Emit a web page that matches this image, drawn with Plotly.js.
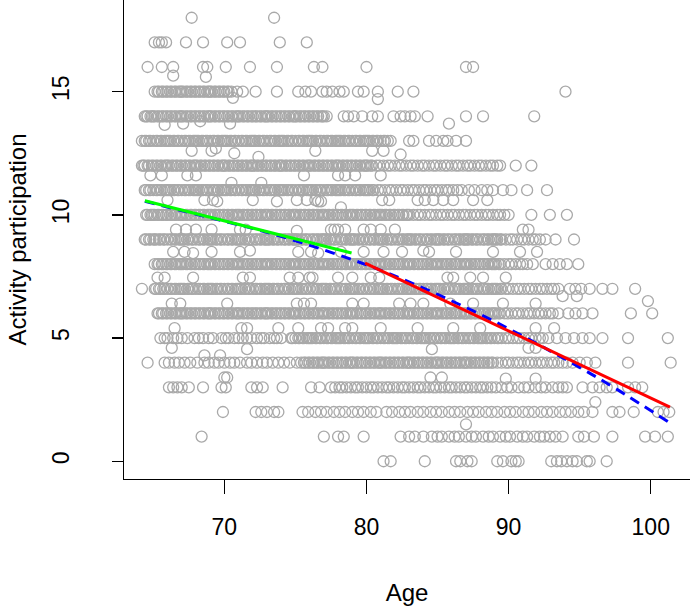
<!DOCTYPE html>
<html><head><meta charset="utf-8">
<script src="https://cdn.plot.ly/plotly-3.0.1.min.js"></script>
<style>html,body{margin:0;padding:0;background:#fff}#chart{width:698px;height:607px}</style>
</head><body><div id="chart"></div>
<script>
// Observed ages at each integer activity-participation score (dense runs = heavy overplotting)
const age18 = [67.7, 73.5];
const age17 = [65.1, 65.4, 65.6, 65.9, 67.3, 68.5, 70.2, 71.1, 73.9, 75.8];
const age16 = [64.6, 65.6, 66.4, 68.5, 68.8, 70.1, 71.8, 73.7, 76.3, 76.9, 80.0, 87.0, 87.5];
const age15 = [65.1, 65.3, 65.4, 65.6, 65.7, 65.9, 66.0, 66.2, 66.3, 66.5, 66.6, 66.8, 66.9,
  67.0, 67.1, 67.3, 67.4, 67.6, 67.7, 67.9, 68.0, 68.2, 68.3, 68.5, 68.6, 68.8, 68.9,
  69.0, 69.1, 69.3, 69.4, 69.6, 69.7, 69.9, 70.0, 70.2, 70.3, 70.5,
  70.9, 71.3, 72.2, 73.7, 75.2, 75.7, 76.1, 76.9, 77.2, 77.6, 78.1, 78.4, 79.4, 79.8, 80.8, 82.2, 83.3, 94.0];
const age14 = [64.4, 64.5, 64.6, 64.8, 64.9, 65.0, 65.1, 65.3, 65.4, 65.6, 65.7, 65.9,
  66.0, 66.2, 66.3, 66.5, 66.6, 66.8, 66.9, 67.0, 67.1, 67.3, 67.4, 67.6, 67.7, 67.9,
  68.0, 68.2, 68.3, 68.5, 68.6, 68.8, 68.9, 69.0, 69.1, 69.3, 69.4, 69.6, 69.7, 69.9,
  70.0, 70.2, 70.3, 70.5, 70.6, 70.8, 70.9, 71.0, 71.1, 71.3, 71.4, 71.6, 71.7, 71.9,
  72.0, 72.2, 72.3, 72.5, 72.6, 72.8, 72.9, 73.0, 73.1, 73.3, 73.4, 73.6, 73.7, 73.9,
  74.0, 74.2, 74.3, 74.5, 74.6, 74.8, 74.9, 75.0, 75.1, 75.3, 75.4, 75.6, 75.7, 75.9,
  76.0, 76.2, 76.3, 76.5, 76.6, 76.8, 76.9, 77.0, 77.2,
  78.4, 78.7, 79.1, 79.7, 80.4, 80.8, 81.9, 82.4, 82.7, 83.1, 83.4, 84.3, 87.0, 88.2, 91.8];
const age13 = [64.2, 64.4, 64.5, 64.7, 64.8, 65.0, 65.2, 65.3, 65.5, 65.6, 65.8, 65.9,
  66.0, 66.1, 66.2, 66.4, 66.5, 66.7, 66.8, 67.0, 67.2, 67.3, 67.5, 67.6, 67.8, 67.9,
  68.0, 68.1, 68.2, 68.4, 68.5, 68.7, 68.8, 69.0, 69.2, 69.3, 69.5, 69.6, 69.8, 69.9,
  70.0, 70.1, 70.2, 70.4, 70.5, 70.7, 70.8, 71.0, 71.2, 71.3, 71.5, 71.6, 71.8, 71.9,
  72.0, 72.1, 72.2, 72.4, 72.5, 72.7, 72.8, 73.0, 73.2, 73.3, 73.5, 73.6, 73.8, 73.9,
  74.0, 74.1, 74.2, 74.4, 74.5, 74.7, 74.8, 75.0, 75.2, 75.3, 75.5, 75.6, 75.8, 75.9,
  76.0, 76.1, 76.2, 76.4, 76.5, 76.7, 76.8, 77.0, 77.2, 77.3, 77.5, 77.6, 77.8, 77.9,
  78.0, 78.1, 78.2, 78.4, 78.5, 78.7, 78.8, 79.0, 79.2, 79.3, 79.5, 79.6, 79.8, 79.9,
  80.0, 80.1, 80.2, 80.4, 80.5, 80.7, 80.8, 81.0, 81.2, 81.3, 81.5, 81.7,
  83.0, 83.3, 84.4, 84.9, 85.4, 85.7, 86.3, 87.0];
const age12 = [64.2, 64.3, 64.4, 64.6, 64.7, 64.9, 65.0, 65.2, 65.3, 65.5, 65.6, 65.8, 65.9,
  66.0, 66.1, 66.3, 66.4, 66.6, 66.7, 66.9, 67.0, 67.2, 67.3, 67.5, 67.6, 67.8, 67.9,
  68.0, 68.1, 68.3, 68.4, 68.6, 68.7, 68.9, 69.0, 69.2, 69.3, 69.5, 69.6, 69.8, 69.9,
  70.0, 70.1, 70.3, 70.4, 70.6, 70.7, 70.9, 71.0, 71.2, 71.3, 71.5, 71.6, 71.8, 71.9,
  72.0, 72.1, 72.3, 72.4, 72.6, 72.7, 72.9, 73.0, 73.2, 73.3, 73.5, 73.6, 73.8, 73.9,
  74.0, 74.1, 74.3, 74.4, 74.6, 74.7, 74.9, 75.0, 75.2, 75.3, 75.5, 75.6, 75.8, 75.9,
  76.0, 76.1, 76.3, 76.4, 76.6, 76.7, 76.9, 77.0, 77.2, 77.3, 77.5, 77.6, 77.8, 77.9,
  78.0, 78.1, 78.3, 78.4, 78.6, 78.7, 78.9, 79.0, 79.2, 79.3, 79.5, 79.6, 79.8, 79.9,
  80.0, 80.1, 80.3, 80.4, 80.7, 80.9, 81.2, 81.5, 81.7, 82.0, 82.3, 82.5, 82.8, 83.1,
  83.3, 83.6, 83.9, 84.1, 84.4, 84.7, 84.9, 85.2, 85.5, 85.7, 86.0, 86.3, 86.5, 86.8,
  87.1, 87.3, 87.6, 87.9, 88.1, 88.4, 88.7, 88.9, 89.2, 89.4, 90.5, 91.6];
const age11 = [64.4, 64.5, 64.7, 64.8, 65.0, 65.2, 65.3, 65.5, 65.6, 65.8, 65.9,
  66.0, 66.1, 66.2, 66.4, 66.5, 66.7, 66.8, 67.0, 67.2, 67.3, 67.5, 67.6, 67.8, 67.9,
  68.0, 68.1, 68.2, 68.4, 68.5, 68.7, 68.8, 69.0, 69.2, 69.3, 69.5, 69.6, 69.8, 69.9,
  70.0, 70.1, 70.2, 70.4, 70.5, 70.7, 70.8, 71.0, 71.2, 71.3, 71.5, 71.6, 71.8, 71.9,
  72.0, 72.1, 72.2, 72.4, 72.5, 72.7, 72.8, 73.0, 73.2, 73.3, 73.5, 73.6, 73.8, 73.9,
  74.0, 74.1, 74.2, 74.4, 74.5, 74.7, 74.8, 75.0, 75.2, 75.3, 75.5, 75.6, 75.8, 75.9,
  76.0, 76.1, 76.2, 76.4, 76.5, 76.7, 76.8, 77.0, 77.2, 77.3, 77.5, 77.6, 77.8, 77.9,
  78.0, 78.1, 78.2, 78.4, 78.5, 78.7, 78.8, 79.0, 79.2, 79.3, 79.5, 79.6, 79.8, 79.9,
  80.0, 80.1, 80.2, 80.4, 80.5, 80.8, 81.0, 81.3, 81.6, 81.8, 82.1, 82.4, 82.6, 82.9,
  83.2, 83.4, 83.7, 84.0, 84.2, 84.5, 84.8, 85.0, 85.3, 85.6, 85.8, 86.1, 86.4, 86.7,
  87.2, 87.6, 88.1, 88.5, 88.9, 89.6, 90.2, 91.3, 92.7];
const age10 = [64.5, 64.6, 64.8, 64.9, 65.0, 65.1, 65.3, 65.4, 65.6, 65.7, 65.9,
  66.0, 66.2, 66.3, 66.5, 66.6, 66.8, 66.9, 67.0, 67.1, 67.3, 67.4, 67.6, 67.7, 67.9,
  68.0, 68.2, 68.3, 68.5, 68.6, 68.8, 68.9, 69.0, 69.1, 69.3, 69.4, 69.6, 69.7, 69.9,
  70.0, 70.2, 70.3, 70.5, 70.6, 70.8, 70.9, 71.0, 71.1, 71.3, 71.4, 71.6, 71.7, 71.9,
  72.0, 72.2, 72.3, 72.5, 72.6, 72.8, 72.9, 73.0, 73.1, 73.3, 73.4, 73.6, 73.7, 73.9,
  74.0, 74.2, 74.3, 74.5, 74.6, 74.8, 74.9, 75.0, 75.1, 75.3, 75.4, 75.6, 75.7, 75.9,
  76.0, 76.2, 76.3, 76.5, 76.6, 76.8, 76.9, 77.0, 77.1, 77.3, 77.4, 77.6, 77.7, 77.9,
  78.0, 78.2, 78.3, 78.5, 78.6, 78.8, 78.9, 79.0, 79.1, 79.3, 79.4, 79.6, 79.7, 79.9,
  80.0, 80.2, 80.3, 80.5, 80.6, 80.8, 80.9, 81.0, 81.1, 81.3, 81.4, 81.6, 81.7, 81.9,
  82.0, 82.2, 82.3, 82.5, 82.6, 82.8, 82.9, 83.0, 83.3, 83.6, 83.8, 84.1, 84.4, 84.6,
  84.9, 85.2, 85.4, 85.7, 86.0, 86.2, 86.5, 86.8, 87.0, 87.3, 87.6, 87.8, 88.1, 88.4,
  88.6, 88.9, 89.2, 89.4, 89.7, 90.0, 91.6, 92.9, 94.1];
const age9 = [64.4, 64.5, 64.7, 64.8, 65.0, 65.1, 65.2, 65.4, 65.5, 65.7, 65.8,
  66.0, 66.2, 66.3, 66.5, 66.6, 66.8, 66.9, 67.0, 67.1, 67.2, 67.4, 67.5, 67.7, 67.8,
  68.0, 68.2, 68.3, 68.5, 68.6, 68.8, 68.9, 69.0, 69.1, 69.2, 69.4, 69.5, 69.7, 69.8,
  70.0, 70.2, 70.3, 70.5, 70.6, 70.8, 70.9, 71.0, 71.1, 71.2, 71.4, 71.5, 71.7, 71.8,
  72.0, 72.2, 72.3, 72.5, 72.6, 72.8, 72.9, 73.0, 73.1, 73.2, 73.4, 73.5, 73.7, 73.8,
  74.0, 74.2, 74.3, 74.5, 74.6, 74.8, 74.9, 75.0, 75.1, 75.2, 75.4, 75.5, 75.7, 75.8,
  76.0, 76.2, 76.3, 76.5, 76.6, 76.8, 76.9, 77.0, 77.1, 77.2, 77.4, 77.5, 77.7, 77.8,
  78.0, 78.2, 78.3, 78.5, 78.6, 78.8, 78.9, 79.0, 79.1, 79.2, 79.4, 79.5, 79.7, 79.8,
  80.0, 80.2, 80.3, 80.5, 80.6, 80.8, 80.9, 81.0, 81.1, 81.2, 81.4, 81.5, 81.7, 81.8,
  82.0, 82.2, 82.3, 82.5, 82.6, 82.8, 82.9, 83.0, 83.1, 83.2, 83.4, 83.5, 83.7, 83.8,
  84.0, 84.2, 84.3, 84.5, 84.6, 84.8, 84.9, 85.0, 85.1, 85.2, 85.4, 85.5, 85.7, 85.8,
  86.0, 86.2, 86.3, 86.5, 86.6, 86.8, 86.9, 87.0, 87.1, 87.2, 87.4, 87.5, 87.7, 87.8,
  88.0, 88.2, 88.3, 88.5, 88.6, 88.8, 88.9, 89.0, 89.1, 89.2, 89.4, 89.5,
  89.8, 90.1, 90.3, 90.6, 90.9, 91.1, 91.4, 91.7, 91.9, 92.2, 92.6, 93.3, 94.6];
const age8 = [65.1, 65.3, 65.4, 65.6, 65.7, 65.9,
  66.0, 66.2, 66.3, 66.5, 66.6, 66.8, 66.9, 67.0, 67.1, 67.3, 67.4, 67.6, 67.7, 67.9,
  68.0, 68.2, 68.3, 68.5, 68.6, 68.8, 68.9, 69.0, 69.1, 69.3, 69.4, 69.6, 69.7, 69.9,
  70.0, 70.2, 70.3, 70.5, 70.6, 70.8, 70.9, 71.0, 71.1, 71.3, 71.4, 71.6, 71.7, 71.9,
  72.0, 72.2, 72.3, 72.5, 72.6, 72.8, 72.9, 73.0, 73.1, 73.3, 73.4, 73.6, 73.7, 73.9,
  74.0, 74.2, 74.3, 74.5, 74.6, 74.8, 74.9, 75.0, 75.1, 75.3, 75.4, 75.6, 75.7, 75.9,
  76.0, 76.2, 76.3, 76.5, 76.6, 76.8, 76.9, 77.0, 77.1, 77.3, 77.4, 77.6, 77.7, 77.9,
  78.0, 78.2, 78.3, 78.5, 78.6, 78.8, 78.9, 79.0, 79.1, 79.3, 79.4, 79.6, 79.7, 79.9,
  80.0, 80.2, 80.3, 80.5, 80.6, 80.8, 80.9, 81.0, 81.1, 81.3, 81.4, 81.6, 81.7, 81.9,
  82.0, 82.2, 82.3, 82.5, 82.6, 82.8, 82.9, 83.0, 83.1, 83.3, 83.4, 83.6, 83.7, 83.9,
  84.0, 84.2, 84.3, 84.5, 84.6, 84.8, 84.9, 85.0, 85.1, 85.3, 85.4, 85.6, 85.7, 85.9,
  86.0, 86.2, 86.3, 86.5, 86.6, 86.8, 86.9, 87.0, 87.1, 87.3, 87.4, 87.6, 87.7, 87.9,
  88.0, 88.2, 88.3, 88.5, 88.6, 88.8, 88.9, 89.0, 89.1, 89.3, 89.4,
  89.7, 90.0, 90.2, 90.5, 90.8, 91.0, 91.3, 91.7, 92.6, 93.1, 93.6, 94.1, 94.9];
const age7 = [64.2, 65.1, 65.2, 65.4, 65.5, 65.7, 65.8,
  66.0, 66.2, 66.3, 66.5, 66.6, 66.8, 66.9, 67.0, 67.1, 67.2, 67.4, 67.5, 67.7, 67.8,
  68.0, 68.2, 68.3, 68.5, 68.6, 68.8, 68.9, 69.0, 69.1, 69.2, 69.4, 69.5, 69.7, 69.8,
  70.0, 70.2, 70.3, 70.5, 70.6, 70.8, 70.9, 71.0, 71.1, 71.2, 71.4, 71.5, 71.7, 71.8,
  72.0, 72.2, 72.3, 72.5, 72.6, 72.8, 72.9, 73.0, 73.1, 73.2, 73.4, 73.5, 73.7, 73.8,
  74.0, 74.2, 74.3, 74.5, 74.6, 74.8, 74.9, 75.0, 75.1, 75.2, 75.4, 75.5, 75.7, 75.8,
  76.0, 76.2, 76.3, 76.5, 76.6, 76.8, 76.9, 77.0, 77.1, 77.2, 77.4, 77.5, 77.7, 77.8,
  78.0, 78.2, 78.3, 78.5, 78.6, 78.8, 78.9, 79.0, 79.1, 79.2, 79.4, 79.5, 79.7, 79.8,
  80.0, 80.2, 80.3, 80.5, 80.6, 80.8, 80.9, 81.0, 81.1, 81.2, 81.4, 81.5, 81.7, 81.8,
  82.0, 82.2, 82.3, 82.5, 82.6, 82.8, 82.9, 83.0, 83.1, 83.2, 83.4, 83.5, 83.7, 83.8,
  84.0, 84.2, 84.3, 84.5, 84.6, 84.8, 84.9, 85.0, 85.1, 85.2, 85.4, 85.5, 85.7, 85.8,
  86.0, 86.2, 86.3, 86.5, 86.6, 86.8, 86.9, 87.0, 87.1, 87.2, 87.4, 87.5, 87.7, 87.8,
  88.0, 88.2, 88.3, 88.5, 88.6, 88.8, 88.9, 89.0, 89.1, 89.2, 89.4, 89.5,
  89.8, 90.0, 90.3, 90.6, 90.8, 91.1, 91.4, 91.6, 91.9, 92.2, 92.4, 92.7, 93.0, 93.2, 93.5,
  94.3, 94.7, 95.1, 95.7, 96.6, 97.3, 98.9];
const age6 = [65.3, 65.4, 65.6, 65.7, 65.9,
  66.0, 66.2, 66.3, 66.5, 66.6, 66.8, 66.9, 67.0, 67.1, 67.3, 67.4, 67.6, 67.7, 67.9,
  68.0, 68.2, 68.3, 68.5, 68.6, 68.8, 68.9, 69.0, 69.1, 69.3, 69.4, 69.6, 69.7, 69.9,
  70.0, 70.2, 70.3, 70.5, 70.6, 70.8, 70.9, 71.0, 71.1, 71.3, 71.4, 71.6, 71.7, 71.9,
  72.0, 72.2, 72.3, 72.5, 72.6, 72.8, 72.9, 73.0, 73.1, 73.3, 73.4, 73.6, 73.7, 73.9,
  74.0, 74.2, 74.3, 74.5, 74.6, 74.8, 74.9, 75.0, 75.1, 75.3, 75.4, 75.6, 75.7, 75.9,
  76.0, 76.2, 76.3, 76.5, 76.6, 76.8, 76.9, 77.0, 77.1, 77.3, 77.4, 77.6, 77.7, 77.9,
  78.0, 78.2, 78.3, 78.5, 78.6, 78.8, 78.9, 79.0, 79.1, 79.3, 79.4, 79.6, 79.7, 79.9,
  80.0, 80.2, 80.3, 80.5, 80.6, 80.8, 80.9, 81.0, 81.1, 81.3, 81.4, 81.6, 81.7, 81.9,
  82.0, 82.2, 82.3, 82.5, 82.6, 82.8, 82.9, 83.0, 83.1, 83.3, 83.4, 83.6, 83.7, 83.9,
  84.0, 84.2, 84.3, 84.5, 84.6, 84.8, 84.9, 85.0, 85.1, 85.3, 85.4, 85.6, 85.7, 85.9,
  86.0, 86.2, 86.3, 86.5, 86.6, 86.8, 86.9, 87.0, 87.1, 87.3, 87.4, 87.6, 87.7, 87.9,
  88.0, 88.2, 88.3, 88.5, 88.6, 88.8, 88.9, 89.0, 89.1, 89.3, 89.4,
  89.7, 89.9, 90.2, 90.5, 90.7, 91.0, 91.3, 91.5, 91.8, 92.1, 92.3, 92.6, 92.9, 93.1, 93.5,
  94.2, 94.7, 95.2, 95.9, 98.6, 100.1];
const age5 = [65.5, 65.8, 66.0, 66.4, 66.7, 67.0, 67.4, 67.9, 68.2, 68.5, 68.9, 69.2,
  69.8, 70.1, 70.3, 70.7, 71.0, 71.3, 71.6, 71.9, 72.3, 72.6, 72.8, 73.2, 73.5, 73.7, 74.0,
  74.7, 74.8, 75.0, 75.2, 75.3, 75.5, 75.6, 75.8, 75.9,
  76.0, 76.1, 76.2, 76.4, 76.5, 76.7, 76.8, 77.0, 77.2, 77.3, 77.5, 77.6, 77.8, 77.9,
  78.0, 78.1, 78.2, 78.4, 78.5, 78.7, 78.8, 79.0, 79.2, 79.3, 79.5, 79.6, 79.8, 79.9,
  80.0, 80.1, 80.2, 80.4, 80.5, 80.7, 80.8, 81.0, 81.2, 81.3, 81.5, 81.6, 81.8, 81.9,
  82.0, 82.1, 82.2, 82.4, 82.5, 82.7, 82.8, 83.0, 83.2, 83.3, 83.5, 83.6, 83.8, 83.9,
  84.0, 84.1, 84.2, 84.4, 84.5, 84.7, 84.8, 85.0, 85.2, 85.3, 85.5, 85.6, 85.8, 85.9,
  86.0, 86.1, 86.2, 86.4, 86.5, 86.7, 86.8, 87.0, 87.2, 87.3, 87.5, 87.6, 87.8, 87.9,
  88.0, 88.1, 88.2, 88.4, 88.5, 88.7, 88.8, 89.0, 89.2, 89.3, 89.5,
  89.8, 90.0, 90.3, 90.6, 90.8, 91.1, 91.4, 91.6, 91.9, 92.2, 92.4, 92.8,
  93.4, 94.0, 94.6, 95.2, 95.7, 96.6, 98.4, 101.2];
const age4 = [64.6, 65.8, 66.1, 66.5, 66.8, 67.2, 67.6, 68.1, 68.6, 68.9, 69.3, 69.6, 70.0,
  70.4, 70.7, 71.1, 71.6, 71.9, 72.3, 72.7, 73.0, 73.4, 73.8, 74.2, 74.6, 75.1,
  75.4, 75.6, 75.7, 75.9, 76.0, 76.2, 76.3, 76.5, 76.6, 76.8, 76.9,
  77.0, 77.1, 77.3, 77.4, 77.6, 77.7, 77.9, 78.0, 78.2, 78.3, 78.5, 78.6, 78.8, 78.9,
  79.0, 79.1, 79.3, 79.4, 79.6, 79.7, 79.9, 80.0, 80.2, 80.3, 80.5, 80.6, 80.8, 80.9,
  81.0, 81.1, 81.3, 81.4, 81.6, 81.7, 81.9, 82.0, 82.2, 82.3, 82.5, 82.6, 82.8, 82.9,
  83.0, 83.1, 83.3, 83.4, 83.6, 83.7, 83.9, 84.0, 84.2, 84.3, 84.5, 84.6, 84.8, 84.9,
  85.0, 85.1, 85.3, 85.4, 85.6, 85.7, 85.9, 86.0, 86.2, 86.3, 86.5, 86.6, 86.8, 86.9,
  87.0, 87.1, 87.3, 87.4, 87.6, 87.7, 87.9, 88.0, 88.2, 88.3, 88.5, 88.6, 88.8, 88.9,
  89.2, 89.5, 89.8, 90.0, 90.3, 90.6, 90.8, 91.1, 91.4, 91.6, 91.9, 92.2, 92.4, 92.7,
  93.0, 93.2, 93.5, 93.8, 94.1, 94.5, 95.0, 95.5, 96.1, 98.4, 101.4];
const age3 = [66.1, 66.4, 66.7, 67.0, 67.5, 68.5, 69.8, 70.1, 71.9, 72.3, 72.7, 74.1, 76.1, 76.7,
  77.5, 77.8, 78.1, 78.3, 78.6, 78.9, 79.2, 79.4, 79.7, 80.0, 80.3, 80.5, 80.8, 81.1,
  81.4, 81.6, 81.9, 82.2, 82.5, 82.7, 83.0, 83.3, 83.6, 83.8, 84.1, 84.4, 84.7, 84.9,
  85.2, 85.5, 85.8, 86.0, 86.3, 86.6, 86.9, 87.1, 87.4, 87.7, 88.0, 88.2, 88.5, 88.8,
  89.1, 89.5, 89.9, 90.2, 90.7, 91.1, 91.4, 91.9, 92.3, 92.6, 93.1, 93.5, 93.8, 94.1,
  95.2, 95.9, 96.4, 96.9, 97.3, 98.4, 98.9, 99.4];
const age2 = [69.9, 72.2, 72.6, 73.0, 73.5, 73.8, 75.5, 75.9, 76.4, 76.8, 77.2, 77.7, 78.1, 78.5,
  79.0, 79.4, 79.8, 80.3, 80.7, 81.4, 81.8, 82.3, 82.7, 83.1, 83.6, 84.0, 84.5, 84.9, 85.3,
  85.8, 86.2, 86.6, 87.1, 87.5, 87.9, 88.4, 88.8, 89.2, 89.7, 90.1, 90.5, 91.0, 91.4, 91.8,
  92.3, 92.7, 93.1, 93.6, 94.0, 94.4, 94.9, 95.3, 95.9, 97.3, 97.8, 98.8, 100.5, 100.9, 101.3];
const age1 = [68.4, 77.0, 78.0, 78.4, 79.8, 82.4, 83.0, 83.4, 84.0, 84.6, 85.0, 85.3, 85.8, 86.2,
  86.5, 87.0, 87.4, 87.7, 88.2, 88.6, 88.9, 89.4, 89.8, 90.1, 90.6, 91.0, 91.3, 91.8, 92.2,
  92.5, 92.9, 93.3, 93.8, 94.9, 95.3, 96.0, 97.3, 99.6, 100.3, 101.2];
const age0 = [81.2, 81.7, 84.1, 86.3, 86.6, 87.1, 87.4, 89.2, 89.6, 90.2, 90.5, 90.7, 93.0, 93.4,
  93.7, 94.1, 94.5, 94.8, 95.5, 95.7, 96.9];

// Non-integer scores (scattered between the rows)
const midAge = [66.4, 68.7, 70.6, 80.8, 65.8, 67.1, 68.3, 70.4, 85.8,
  67.7, 69.1, 69.4, 70.7, 72.4, 76.4, 80.4, 81.2, 82.4,
  64.8, 65.6, 67.4, 68.0, 70.5, 72.6, 75.6, 78.0, 78.5, 79.2, 81.0,
  66.0, 68.6, 69.2, 69.5, 72.0, 73.7, 75.1, 75.8, 76.4, 76.6, 76.8, 78.2, 81.1, 81.6, 83.6, 84.1, 84.7, 85.4, 86.1, 87.5, 88.5,
  66.6, 67.3, 68.0, 69.1, 71.1, 71.5, 75.1, 77.5, 77.75, 78.0, 78.5, 79.8, 80.3, 81.0, 82.0, 91.0, 91.4,
  66.4, 67.2, 67.8, 69.1, 71.1, 71.8, 75.2, 76.1, 76.6, 78.2, 79.8, 81.2, 82.5, 84.0, 84.4, 86.3, 88.9, 90.8, 92.0,
  65.3, 65.8, 67.8, 71.3, 71.8, 74.6, 75.2, 76.0, 76.2, 78.0, 79.0, 80.3, 80.9, 85.7, 86.1, 87.3, 88.2, 89.8, 93.8, 94.8, 99.8,
  66.3, 66.9, 70.2, 75.1, 75.6, 76.1, 79.0, 79.8, 82.3, 83.1, 84.0, 85.9, 87.5, 89.6, 91.9,
  66.5, 71.2, 71.6, 73.8, 75.2, 76.8, 77.3, 78.5, 79.0, 81.0, 83.6, 86.1, 88.0, 91.9, 93.2,
  66.3, 71.6, 84.6, 91.4, 91.9, 68.6, 69.7,
  70.0, 70.2, 84.5, 85.3, 89.8, 91.9,
  87.0, 96.1];
const midScore = [15.65, 15.6, 14.75, 14.7, 13.65, 13.7, 13.8, 13.7, 13.7,
  12.6, 12.6, 12.7, 12.5, 12.35, 12.6, 12.6, 12.6, 12.45,
  11.6, 11.6, 11.6, 11.6, 11.3, 11.3, 11.6, 11.6, 11.6, 11.6, 11.6,
  10.6, 10.6, 10.6, 10.55, 10.6, 10.55, 10.6, 10.6, 10.6, 10.55, 10.55, 10.3, 10.6, 10.6, 10.6, 10.6, 10.6, 10.6, 10.6, 10.6, 10.6,
  9.4, 9.4, 9.4, 9.4, 9.4, 9.4, 9.35, 9.4, 9.4, 9.4, 9.4, 9.4, 9.4, 9.4, 9.4, 9.4, 9.4,
  8.5, 8.5, 8.45, 8.5, 8.5, 8.55, 8.5, 8.5, 8.45, 8.5, 8.5, 8.5, 8.5, 8.55, 8.5, 8.5, 8.5, 8.5, 8.5,
  7.45, 7.45, 7.45, 7.45, 7.45, 7.45, 7.45, 7.45, 7.45, 7.45, 7.45, 7.45, 7.45, 7.45, 7.45, 7.45, 7.45, 7.45, 6.7, 6.7, 6.5,
  6.4, 6.4, 6.4, 6.4, 6.4, 6.4, 6.4, 6.4, 6.4, 6.4, 6.4, 6.4, 6.4, 6.4, 6.4,
  5.4, 5.4, 5.4, 5.4, 5.4, 5.4, 5.4, 5.4, 5.4, 5.4, 5.4, 5.4, 5.4, 5.4, 5.4,
  4.6, 4.55, 4.55, 4.6, 4.6, 4.3, 4.3,
  3.4, 3.4, 3.4, 3.4, 3.35, 3.35,
  1.5, 2.4];

// Fitted lines
const greenAge = [64.41, 78.95];
const greenFit = [10.57, 8.45];
const redAge = [79.9, 101.35];
const redFit = [8.04, 2.2];
const blueAge = [64.41, 67.5, 70, 72.5, 75, 77.5, 80, 82.5, 85, 87.5, 90, 92.5, 95, 97.5, 101.28];
const blueFit = [10.55, 10.1, 9.74, 9.37, 8.95, 8.48, 7.97, 7.40, 6.77, 6.10, 5.38, 4.61, 3.81, 2.96, 1.58];

const xTicks = [70, 80, 90, 100];
const yTicks = [0, 5, 10, 15];

const levels = [age0, age1, age2, age3, age4, age5, age6, age7, age8, age9,
  age10, age11, age12, age13, age14, age15, age16, age17, age18];
const ptX = [], ptY = [];
levels.forEach((ages, score) => ages.forEach(a => { ptX.push(a); ptY.push(score); }));
midAge.forEach((a, i) => { ptX.push(a); ptY.push(midScore[i]); });

const font = 'Liberation Sans, Arial, Helvetica, sans-serif';
const traces = [
  {x: ptX, y: ptY, type: 'scatter', mode: 'markers', hoverinfo: 'skip',
   marker: {symbol: 'circle-open', size: 11, color: '#A9A9A9', line: {width: 1.3}}},
  {x: blueAge, y: blueFit, type: 'scatter', mode: 'lines', line: {color: '#0000FF', width: 3, dash: '10px,7px', shape: 'spline'}},
  {x: greenAge, y: greenFit, type: 'scatter', mode: 'lines', line: {color: '#00FF00', width: 3}},
  {x: redAge, y: redFit, type: 'scatter', mode: 'lines', line: {color: '#FF0000', width: 3}}
];
const layout = {
  width: 698, height: 607, showlegend: false,
  paper_bgcolor: '#ffffff', plot_bgcolor: '#ffffff',
  margin: {l: 124, r: 8, t: 0, b: 128, pad: 0},
  font: {family: font, color: '#000000'},
  xaxis: {range: [62.94, 102.76], tickvals: xTicks, ticktext: xTicks.map(String),
    showgrid: false, zeroline: false, showline: true, linecolor: '#000', linewidth: 1.3,
    ticks: 'outside', ticklen: 14, tickwidth: 1.3, tickcolor: '#000',
    tickfont: {size: 23, family: font}, ticklabelstandoff: 13,
    title: {text: 'Age', font: {size: 24, family: font}, standoff: 45}},
  yaxis: {range: [-0.72, 18.72], tickvals: yTicks, ticktext: yTicks.map(String),
    showgrid: false, zeroline: false, showline: true, linecolor: '#000', linewidth: 1.3,
    ticks: 'outside', ticklen: 11, tickwidth: 1.3, tickcolor: '#000', tickangle: -90,
    tickfont: {size: 23, family: font}, ticklabelstandoff: 34,
    title: {text: 'Activity participation', font: {size: 24, family: font}, standoff: 14}}
};
Plotly.newPlot('chart', traces, layout, {staticPlot: true, displayModeBar: false});
</script></body></html>
